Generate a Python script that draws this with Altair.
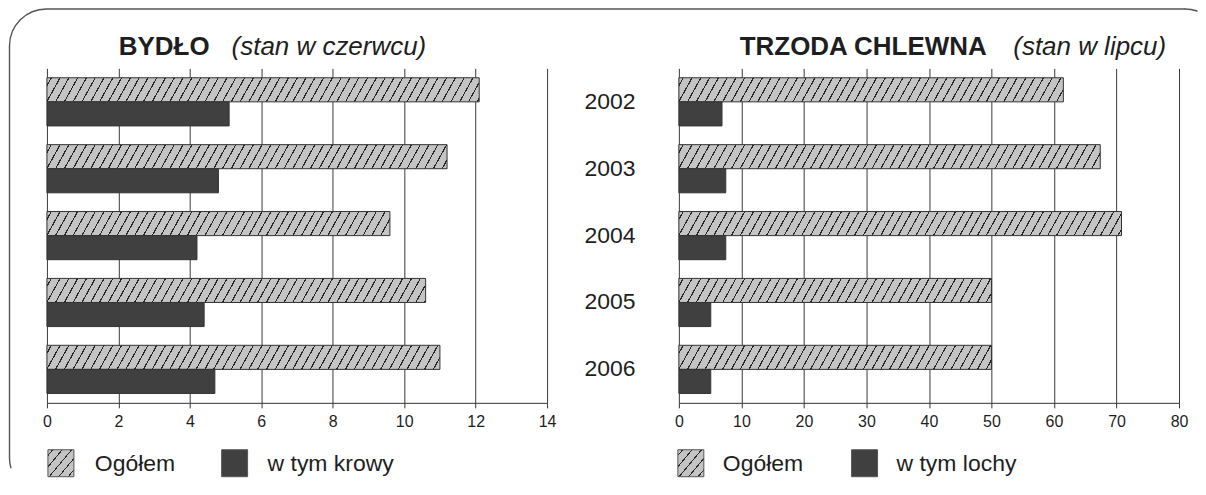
import math
import altair as alt
import pandas as pd

# ---------------- data ----------------
years = ["2002", "2003", "2004", "2005", "2006"]
bydlo_ogolem = [12.1, 11.2, 9.6, 10.6, 11.0]
bydlo_krowy = [5.1, 4.8, 4.2, 4.4, 4.7]
trzoda_ogolem = [61.5, 67.4, 70.8, 50.0, 50.0]
trzoda_lochy = [6.9, 7.5, 7.5, 5.1, 5.1]
bydlo_ticks = [0, 2, 4, 6, 8, 10, 12, 14]
trzoda_ticks = [0, 10, 20, 30, 40, 50, 60, 70, 80]
label_total = "Ogółem"
label_cows = "w tym krowy"
label_sows = "w tym lochy"
title_bydlo = "BYDŁO"
sub_bydlo = "(stan w czerwcu)"
title_trzoda = "TRZODA CHLEWNA"
sub_trzoda = "(stan w lipcu)"

# ---------------- style ----------------
PW, PH = 501, 335
P_IN, P_OUT = 0.28, 0.14
STEP = PH / (len(years) - P_IN + 2 * P_OUT)
BAR_H = STEP * (1 - P_IN) / 2
FONT = "Liberation Sans"
TXT = "#1e1e1e"
HATCH_BG = "#c4c4c4"
HATCH_LINE = "#262626"
DARK = "#404040"
EDGE = "#333333"
FRAME = "#555555"


def hatch(W, H, spacing=8.8, slope=1.8, half=0.65):
    F = W + H / slope
    k = F / (W * W + (H / slope) ** 2)
    stops = [{"offset": 0, "color": HATCH_BG}]
    f = spacing * 0.5
    while f + half < F:
        a = round(max(0.0, (f - half) / F), 5)
        b = round(min(1.0, (f + half) / F), 5)
        stops += [
            {"offset": a, "color": HATCH_BG},
            {"offset": a, "color": HATCH_LINE},
            {"offset": b, "color": HATCH_LINE},
            {"offset": b, "color": HATCH_BG},
        ]
        f += spacing
    stops.append({"offset": 1, "color": HATCH_BG})
    return {"gradient": "linear", "x1": 0, "y1": 0,
            "x2": k * W, "y2": k * H / slope, "stops": stops}


def one():
    return pd.DataFrame({"d": [0]})


def panel(totals, subs, sub_label, dmax, ticks, title, subtitle, show_years,
          title_x, sub_x, legend_xs, frame=False):
    rows = []
    for y, t, s in zip(years, totals, subs):
        rows.append({"year": y, "series": label_total, "kind": 0, "value": t})
        rows.append({"year": y, "series": sub_label, "kind": 1, "value": s})
    df = pd.DataFrame(rows)
    conds = []
    for y, t in zip(years, totals):
        conds.append({"test": f"datum.kind === 0 && datum.year === '{y}'",
                      "value": hatch(t * PW / dmax, BAR_H)})
    yaxis = None
    if show_years:
        yaxis = alt.Axis(title=None, labelFontSize=23, labelFont=FONT, labelColor=TXT,
                         ticks=False, domain=False, grid=False, labelPadding=44)
    bars = alt.Chart(df).mark_bar(stroke=EDGE, strokeWidth=1).encode(
        x=alt.X("value:Q", scale=alt.Scale(domain=[0, dmax], nice=False),
                axis=alt.Axis(values=ticks, title=None, grid=True, gridColor="#3a3a3a",
                              gridWidth=1, domainColor="#333333", tickColor="#333333",
                              tickSize=5, labelFontSize=16, labelFont=FONT,
                              labelColor=TXT, labelPadding=6, labelFlush=False)),
        y=alt.Y("year:N", sort=years,
                scale=alt.Scale(paddingInner=P_IN, paddingOuter=P_OUT), axis=yaxis),
        yOffset=alt.YOffset("kind:O", sort=[0, 1],
                            scale=alt.Scale(paddingInner=0, paddingOuter=0)),
        fill=alt.value(DARK, condition=conds),
        tooltip=["year:N", "series:N", "value:Q"],
    )
    layers = [bars]
    # titles
    layers.append(alt.Chart(one()).mark_text(
        text=title, align="left", baseline="alphabetic", font=FONT, fontSize=26,
        fontWeight="bold", color=TXT).encode(x=alt.value(title_x), y=alt.value(-13)))
    layers.append(alt.Chart(one()).mark_text(
        text=subtitle, align="left", baseline="alphabetic", font=FONT, fontSize=26,
        fontStyle="italic", color=TXT).encode(x=alt.value(sub_x), y=alt.value(-13)))
    # legend
    hx, htx, dx, dtx = legend_xs
    ly0, ly1 = 382, 409
    ty = 396
    layers.append(alt.Chart(one()).mark_rect(
        fill=hatch(26, 27, spacing=9.5, slope=1.2), stroke="#555555", strokeWidth=1).encode(
        x=alt.value(hx), x2=alt.value(hx + 26), y=alt.value(ly0), y2=alt.value(ly1)))
    layers.append(alt.Chart(one()).mark_text(
        text=label_total, align="left", baseline="middle", font=FONT, fontSize=23,
        color=TXT).encode(x=alt.value(htx), y=alt.value(ty)))
    layers.append(alt.Chart(one()).mark_rect(
        fill=DARK, stroke="#555555", strokeWidth=1).encode(
        x=alt.value(dx), x2=alt.value(dx + 26), y=alt.value(ly0), y2=alt.value(ly1)))
    layers.append(alt.Chart(one()).mark_text(
        text=sub_label, align="left", baseline="middle", font=FONT, fontSize=23,
        color=TXT).encode(x=alt.value(dtx), y=alt.value(ty)))
    if frame:
        R = 37
        left, top = -37.5, -59.5
        tlx, tly = left + R, top + R
        trx = 1140
        bly = 390
        sw = 1.4
        layers.append(alt.Chart(one()).mark_rule(color=FRAME, strokeWidth=sw).encode(
            x=alt.value(tlx), x2=alt.value(trx), y=alt.value(top)))
        layers.append(alt.Chart(one()).mark_rule(color=FRAME, strokeWidth=sw).encode(
            x=alt.value(left), y=alt.value(tly), y2=alt.value(bly)))
        arcs = [
            (tlx, tly, 1.5 * math.pi, 2 * math.pi),
            (trx, tly, 0.0, math.asin(12 / R)),
            (tlx, bly, 1.5 * math.pi - math.asin(10 / R), 1.5 * math.pi),
        ]
        for cx, cy, a0, a1 in arcs:
            layers.append(alt.Chart(one()).mark_arc(
                radius=R, radius2=R, filled=False, color=FRAME, strokeWidth=sw,
                strokeJoin="round").encode(
                x=alt.value(cx), y=alt.value(cy), theta=alt.value(a0), theta2=alt.value(a1)))
    return alt.layer(*layers).properties(width=PW, height=PH)


left = panel(bydlo_ogolem, bydlo_krowy, label_cows, 14, bydlo_ticks, title_bydlo, sub_bydlo,
             False, 72, 185, (1, 48, 175, 221), frame=True)
right = panel(trzoda_ogolem, trzoda_lochy, label_sows, 80, trzoda_ticks, title_trzoda, sub_trzoda,
              True, 61, 335, (-1, 44, 173, 218))

chart = alt.hconcat(left, right, spacing=132, bounds="flush").properties(
    padding={"left": 0, "top": -0.9, "right": 0, "bottom": 0},
    background="white",
).configure_view(stroke=None)

chart.save("out.html", embed_options={"renderer": "svg", "actions": False})
